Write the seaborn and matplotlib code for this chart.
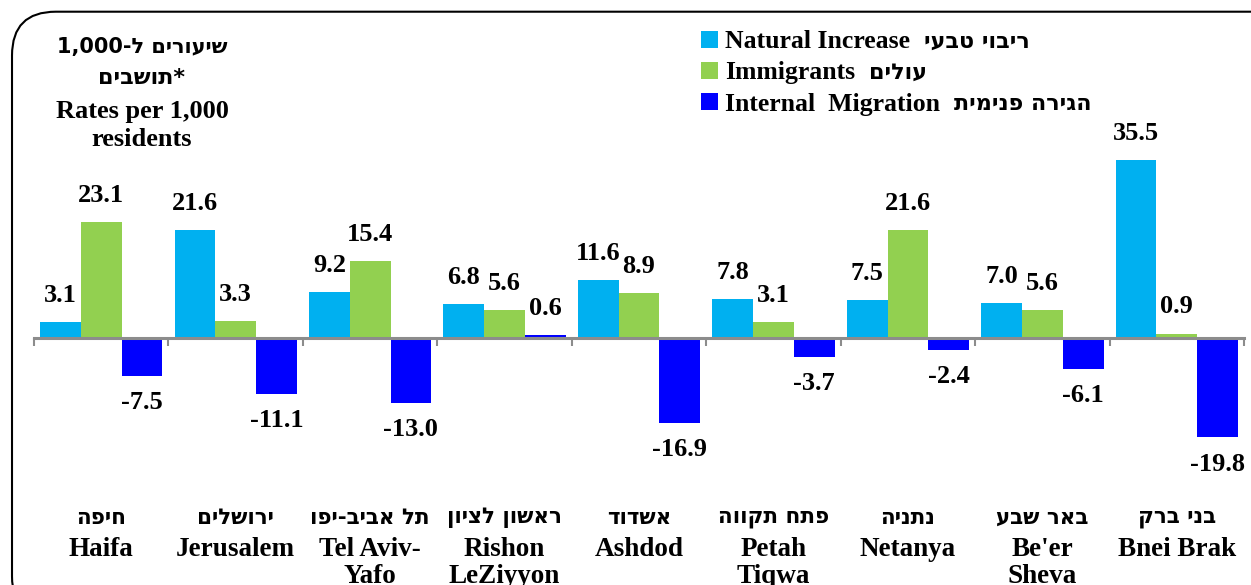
import numpy as np
import pandas as pd
import matplotlib.pyplot as plt
import seaborn as sns
from matplotlib.patches import FancyBboxPatch, Patch
import matplotlib.transforms as mtransforms

# Data
cities_en = ["Haifa", "Jerusalem", "Tel Aviv-\nYafo", "Rishon\nLeZiyyon", "Ashdod",
             "Petah\nTiqwa", "Netanya", "Be'er\nSheva", "Bnei Brak"]
cities_he = ["חיפה", "ירושלים", "תל אביב-יפו", "ראשון לציון", "אשדוד",
             "פתח תקווה", "נתניה", "באר שבע", "בני ברק"]
natural = [3.1, 21.6, 9.2, 6.8, 11.6, 7.8, 7.5, 7.0, 35.5]
immigrants = [23.1, 3.3, 15.4, 5.6, 8.9, 3.1, 21.6, 5.6, 0.9]
internal = [-7.5, -11.1, -13.0, 0.6, -16.9, -3.7, -2.4, -6.1, -19.8]
series_en = ["Natural Increase", "Immigrants", "Internal  Migration"]
series_he = ["ריבוי טבעי", "עולים", "הגירה פנימית"]
colors = ["#00B0F0", "#92D050", "#0000FF"]


def heb(s):
    # matplotlib has no bidi support: flip Hebrew to visual order
    return s[::-1]


df = pd.DataFrame({
    "city": cities_he * 3,
    "rate": natural + immigrants + internal,
    "series": np.repeat(series_en, len(cities_he)),
})

serif = ["Liberation Serif", "DejaVu Sans"]
sans = ["DejaVu Sans"]

fig = plt.figure(figsize=(12.51, 5.85), dpi=100)
ax = fig.add_axes([0.0272, 0.1995, 0.9672, 0.7366])

sns.barplot(data=df, x="city", y="rate", hue="series", palette=colors,
            width=0.91, saturation=1, dodge=True, legend=False, ax=ax,
            errorbar=None, edgecolor="none")

for cont in ax.containers:
    ax.bar_label(cont, fmt="%.1f", padding=11, fontsize=19,
                 fontweight="bold", family=serif)

ax.set_ylim(-26, 60)
ax.set_xlim(-0.5, len(cities_he) - 0.5)
ax.set_xlabel("")
ax.set_ylabel("")
ax.set_yticks([])
for s in ["top", "right", "left"]:
    ax.spines[s].set_visible(False)
ax.spines["bottom"].set_position(("data", 0))
ax.spines["bottom"].set_color("#8C8C8C")
ax.spines["bottom"].set_linewidth(2.2)
ax.set_xticks(np.arange(len(cities_he) + 1) - 0.5)
ax.set_xticklabels([])
ax.tick_params(axis="x", direction="out", length=6, width=1.5, color="#8C8C8C")

trans = mtransforms.blended_transform_factory(ax.transData, ax.transAxes)
for i, (he, en) in enumerate(zip(cities_he, cities_en)):
    ax.text(i, -0.092, heb(he), transform=trans, ha="center", va="top",
            fontsize=15.5, fontweight="bold", family=sans)
    ax.text(i, -0.16, en, transform=trans, ha="center", va="top",
            fontsize=19.5, fontweight="bold", family=serif, linespacing=1.1)

# legend (English part), Hebrew part placed after each entry
handles = [Patch(facecolor=c) for c in colors]
leg = fig.legend(handles, series_en, loc="upper left", bbox_to_anchor=(0.552, 0.966),
                 frameon=False, prop={"family": serif, "weight": "bold", "size": 18.5},
                 handlelength=0.65, handleheight=0.65, handletextpad=0.3,
                 labelspacing=0.32, borderaxespad=0)
fig.canvas.draw()
inv = fig.transFigure.inverted()
for t, he in zip(leg.get_texts(), series_he):
    bb = t.get_window_extent()
    x0, y0 = inv.transform((bb.x1 + 14, (bb.y0 + bb.y1) / 2))
    fig.text(x0, y0, heb(he), ha="left", va="center",
             fontsize=16, fontweight="bold", family=sans)

# rates note
xc = 0.1135
fig.text(xc, 1 - 47 / 585, "1,000-" + heb("שיעורים ל"), ha="center", va="center",
         fontsize=15, fontweight="bold", family=sans)
fig.text(xc, 1 - 78 / 585, heb("תושבים") + "*", ha="center", va="center",
         fontsize=16, fontweight="bold", family=sans)
fig.text(xc, 1 - 100 / 585, "Rates per 1,000\nresidents", ha="center", va="top",
         fontsize=19, fontweight="bold", family=serif, linespacing=1.25)

# rounded frame
frame = FancyBboxPatch((0.0096, -0.06), 1.2, 1.04, transform=fig.transFigure,
                       boxstyle="round,pad=0,rounding_size=0.035",
                       facecolor="none", edgecolor="black", linewidth=1.5,
                       mutation_aspect=12.51 / 5.85)
fig.patches.append(frame)

fig.savefig("out.png", dpi=100)
